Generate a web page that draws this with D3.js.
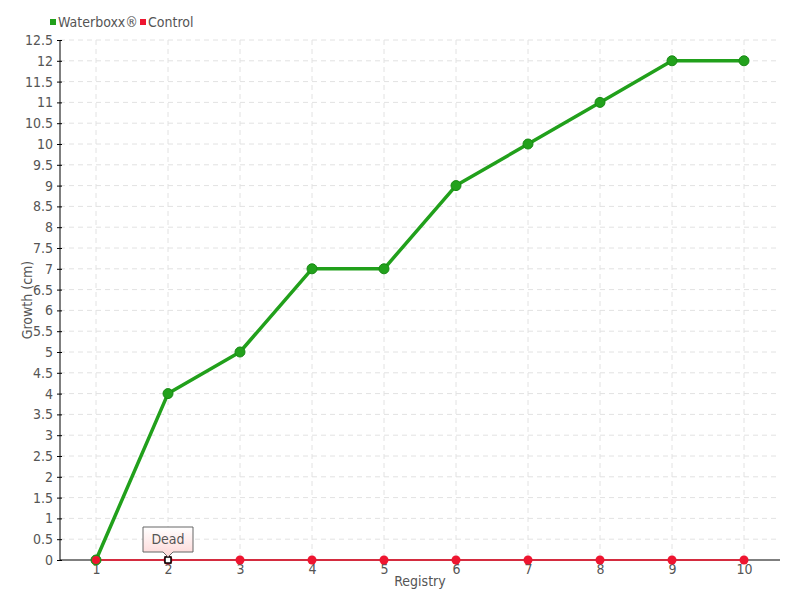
<!DOCTYPE html>
<head>
<meta charset="utf-8">
<script src="https://d3js.org/d3.v7.min.js"></script>
<style>
    body { margin: 0; background: #fff; }
    text { font-family: "DejaVu Sans Condensed", "DejaVu Sans", sans-serif; fill: #555; }
    .grid line { stroke: #e2e2e2; stroke-dasharray: 5,4; }
</style>
</head>
<body>
<svg></svg>
<script>
    var width = 800, height = 600;

    // data
    var registry = ["1","2","3","4","5","6","7","8","9","10"];
    var waterboxx = [0, 4, 5, 7, 7, 9, 10, 11, 12, 12];
    var control = [0, 0, 0, 0, 0, 0, 0, 0, 0, 0];
    var yTicks = d3.range(0, 12.51, 0.5);

    var svg = d3.select("svg").attr("width", width).attr("height", height);

    var plotLeft = 60, plotRight = 780, plotTop = 40, plotBottom = 560;

    var x = d3.scalePoint().domain(registry).range([plotLeft, plotRight]).padding(0.5);
    var y = d3.scaleLinear().domain([0, 12.5]).range([plotBottom, plotTop]);

    // grid
    var grid = svg.append("g").attr("class", "grid");
    grid.selectAll(".h").data(yTicks.slice(1)).enter().append("line")
        .attr("x1", plotLeft).attr("x2", plotRight)
        .attr("y1", function(d){ return y(d); }).attr("y2", function(d){ return y(d); });
    grid.selectAll(".v").data(registry).enter().append("line")
        .attr("x1", function(d){ return x(d); }).attr("x2", function(d){ return x(d); })
        .attr("y1", plotTop).attr("y2", plotBottom);

    // axes
    var yAxis = svg.append("g").attr("transform", "translate(" + plotLeft + ",0)")
        .call(d3.axisLeft(y).tickValues(yTicks).tickSize(4).tickPadding(3)
            .tickFormat(function(d){ return d3.format("")(d); }));
    yAxis.select(".domain").attr("stroke", "#000").attr("d", "M0," + plotTop + "V" + plotBottom);
    yAxis.selectAll(".tick line").attr("stroke", "#000").attr("x2", 2).attr("x1", -3);
    yAxis.selectAll("text").style("font-size", "14px");

    var xAxis = svg.append("g").attr("transform", "translate(0," + plotBottom + ")")
        .call(d3.axisBottom(x).tickSize(0).tickPadding(4));
    xAxis.select(".domain").attr("stroke", "#000").attr("d", "M" + plotLeft + ",0H" + plotRight);
    xAxis.selectAll("text").style("font-size", "14px");

    svg.append("text").attr("x", 420).attr("y", 586).attr("text-anchor", "middle")
        .style("font-size", "14px").text("Registry");
    svg.append("text").attr("transform", "translate(32,300) rotate(-90)")
        .attr("text-anchor", "middle").style("font-size", "14px").text("Growth (cm)");

    var line = d3.line()
        .x(function(d, i){ return x(registry[i]); })
        .y(function(d){ return y(d); });

    // control series
    svg.append("path").datum(control).attr("d", line)
        .attr("fill", "none").attr("stroke", "#f0102a").attr("stroke-width", 1.5);
    svg.selectAll(".cpt").data(control).enter().append("circle")
        .attr("cx", function(d, i){ return x(registry[i]); })
        .attr("cy", function(d){ return y(d); })
        .attr("r", 4.5).attr("fill", "#ee1530");

    // waterboxx series
    svg.append("path").datum(waterboxx).attr("d", line)
        .attr("fill", "none").attr("stroke", "#21a01b").attr("stroke-width", 3.5)
        .attr("stroke-linejoin", "round");
    svg.selectAll(".wpt").data(waterboxx).enter().append("circle")
        .attr("cx", function(d, i){ return x(registry[i]); })
        .attr("cy", function(d){ return y(d); })
        .attr("r", 5).attr("fill", "#22a11c").attr("stroke", "#188a14").attr("stroke-width", 1);

    // first control point drawn on top
    svg.append("circle").attr("cx", x(registry[0])).attr("cy", y(control[0]))
        .attr("r", 4).attr("fill", "#ee1530");

    // "Dead" marker at registry 2
    var dx = x(registry[1]), dy = y(control[1]);
    svg.append("rect").attr("x", dx - 3).attr("y", dy - 3).attr("width", 6).attr("height", 6)
        .attr("fill", "#fff").attr("stroke", "#000").attr("stroke-width", 1.5);

    var grad = svg.append("defs").append("linearGradient").attr("id", "tip")
        .attr("x1", 0).attr("y1", 0).attr("x2", 0).attr("y2", 1);
    grad.append("stop").attr("offset", "0%").attr("stop-color", "#fff");
    grad.append("stop").attr("offset", "100%").attr("stop-color", "#fdd6d6");

    var bx = dx - 25, by = dy - 33, bw = 50, bh = 25;
    svg.append("path")
        .attr("d", "M" + bx + "," + by + "h" + bw + "v" + bh + "h-" + (bw/2 - 5) +
            "l-5,5l-5,-5h-" + (bw/2 - 5) + "z")
        .attr("fill", "url(#tip)").attr("stroke", "#666").attr("stroke-width", 1);
    svg.append("text").attr("x", dx).attr("y", by + 17).attr("text-anchor", "middle")
        .style("font-size", "14px").text("Dead");

    // legend
    var legend = [{name: "Waterboxx®", color: "#21a01b", x: 50}, {name: "Control", color: "#ee1530", x: 140}];
    var lg = svg.selectAll(".lg").data(legend).enter().append("g")
        .attr("transform", function(d){ return "translate(" + d.x + ",22)"; });
    lg.append("rect").attr("x", 0).attr("y", -3).attr("width", 6).attr("height", 6)
        .attr("fill", function(d){ return d.color; });
    lg.append("text").attr("x", 8).attr("y", 5).style("font-size", "14px")
        .text(function(d){ return d.name; });
</script>
</body>
